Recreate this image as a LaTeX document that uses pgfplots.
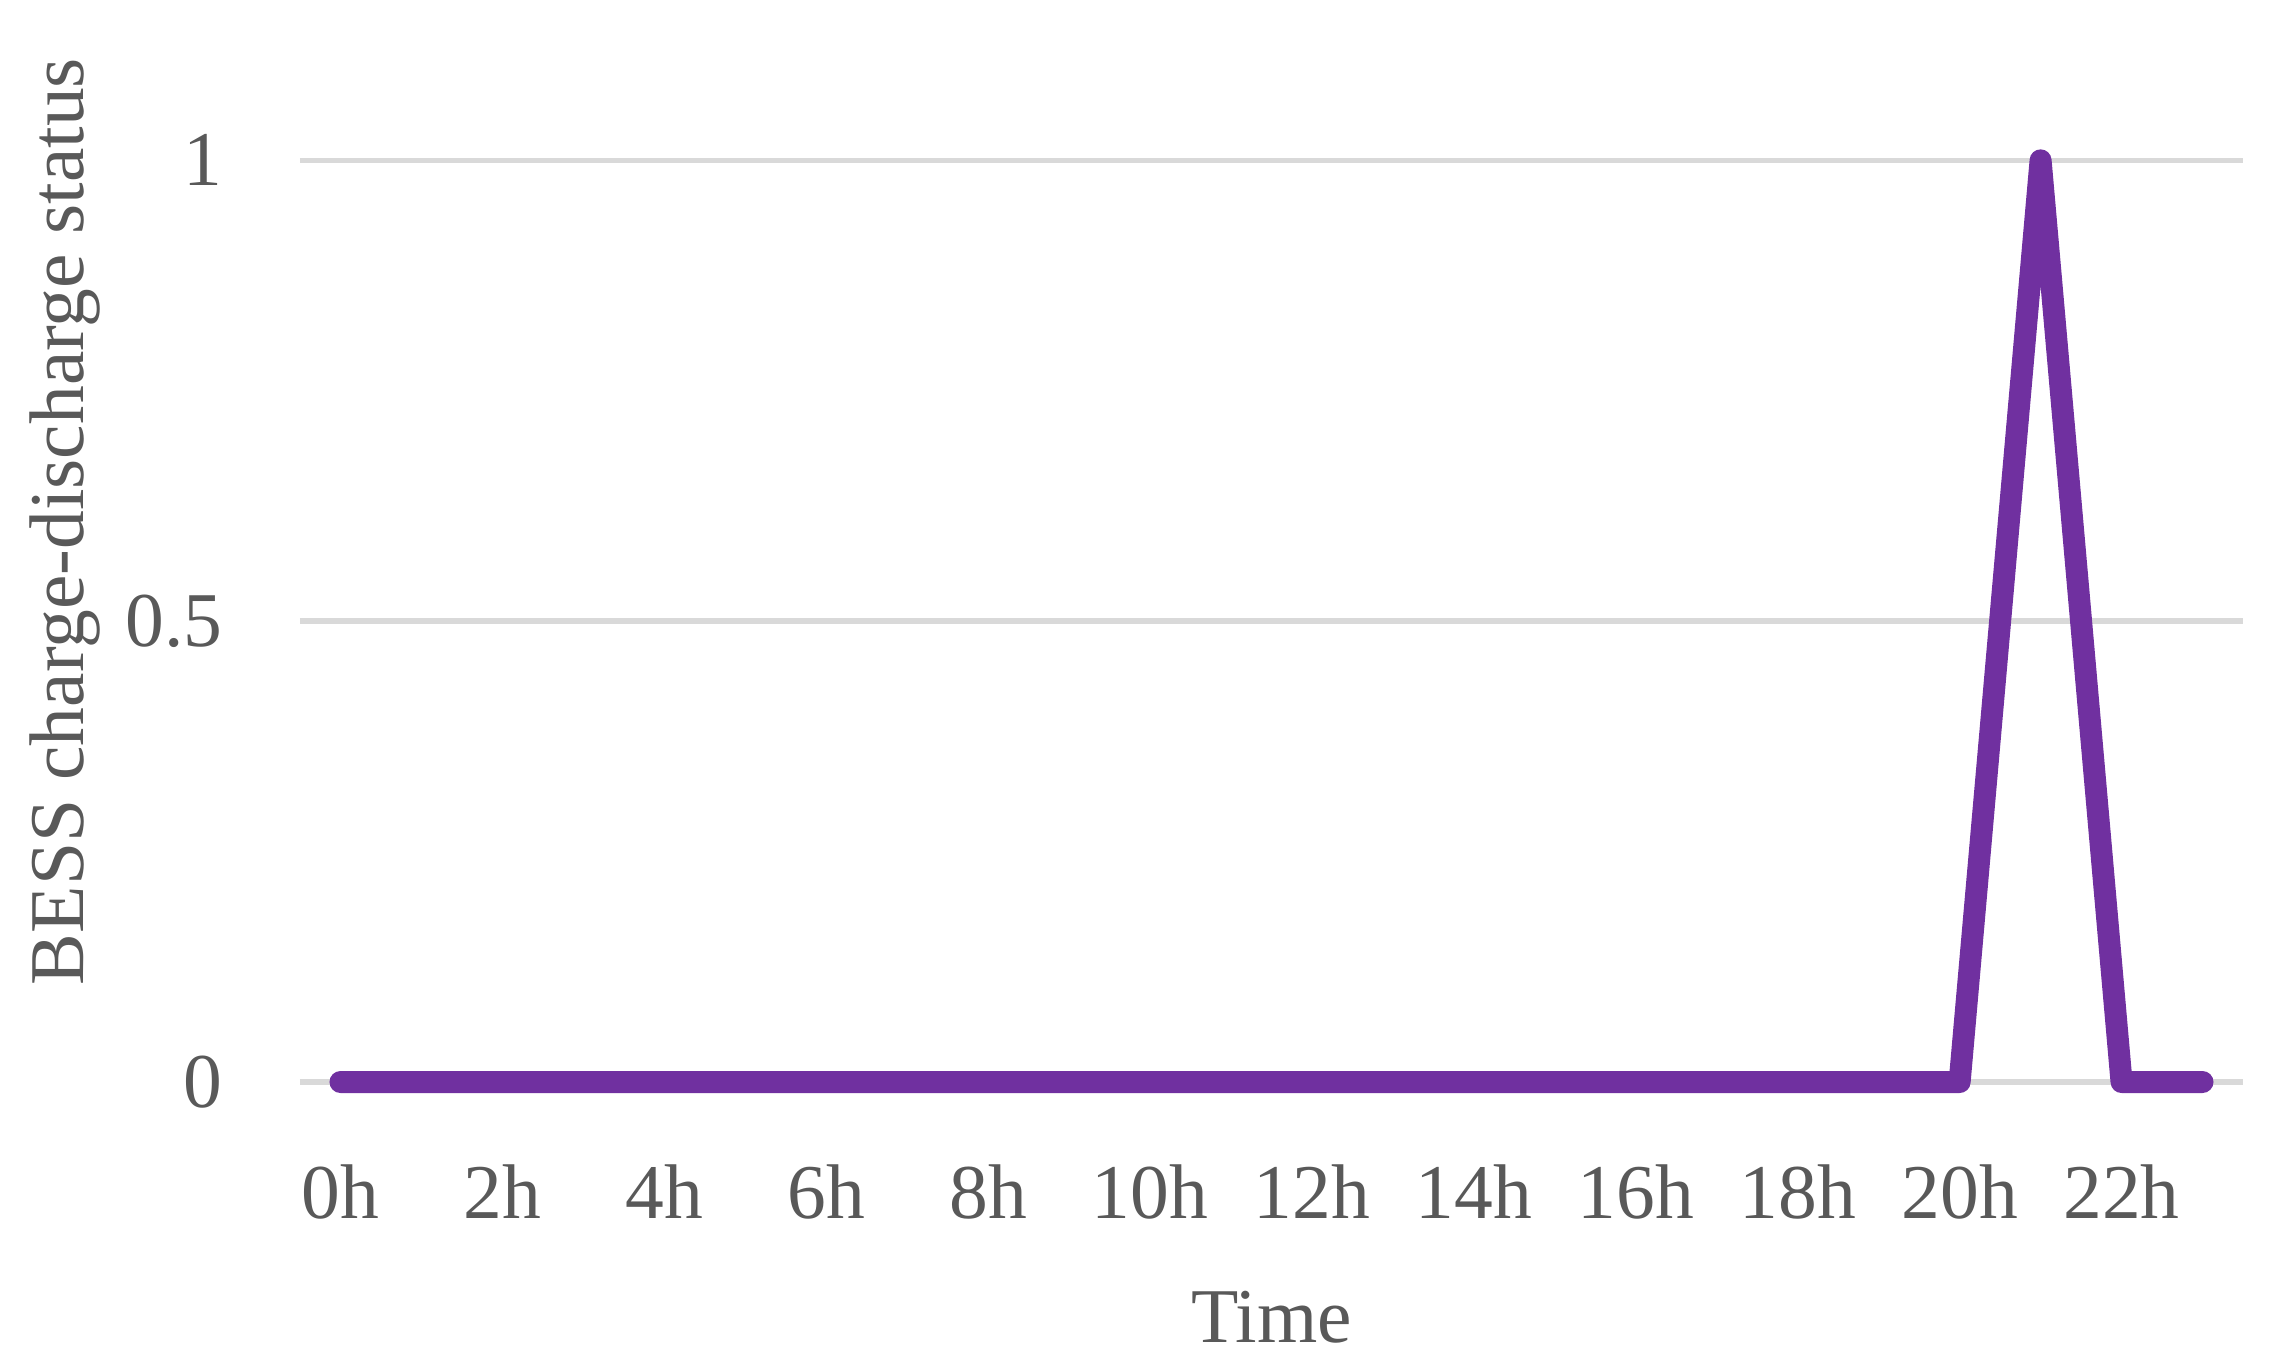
\documentclass[border=0pt]{standalone}
\usepackage{fontspec}
\setmainfont{Liberation Serif}
\usepackage{pgfplots}
\pgfplotsset{compat=1.18}
\definecolor{txt}{HTML}{595959}
\definecolor{gridc}{HTML}{D9D9D9}
\definecolor{bess}{HTML}{7030A0}

\begin{document}
\begin{tikzpicture}
\begin{axis}[
  scale only axis, width=388.6pt, height=216.4pt,
  xmin=-0.5, xmax=23.5, ymin=0, ymax=1.174,
  xtick={0,2,...,22},
  xticklabels={0h,2h,4h,6h,8h,10h,12h,14h,16h,18h,20h,22h},
  ytick={0,0.5,1}, yticklabels={0,0.5,1},
  axis line style={draw=none}, tick style={draw=none},
  ymajorgrids, major grid style={gridc, line width=1.1pt},
  clip=false,
  font=\fontsize{15.5}{18}\selectfont, color=txt,
  xticklabel style={yshift=-13pt},
  yticklabel style={xshift=-12pt},
  xlabel={Time}, ylabel={BESS charge-discharge status},
  xlabel style={at={(rel axis cs:0.5,0)}, yshift=-47pt, anchor=center},
  ylabel style={at={(axis description cs:-0.121,0.518)}, anchor=center},
]
\addplot[bess, line width=4.4pt, line join=round, line cap=round] coordinates {
  (0,0) (1,0) (2,0) (3,0) (4,0) (5,0) (6,0) (7,0) (8,0) (9,0) (10,0) (11,0)
  (12,0) (13,0) (14,0) (15,0) (16,0) (17,0) (18,0) (19,0) (20,0) (21,1) (22,0) (23,0)
};
\path (rel axis cs:0,0) ++(-60pt,-57.2pt) coordinate (bl);
\path (rel axis cs:1,1) ++(9.6pt,0pt) coordinate (tr);
\end{axis}
\end{tikzpicture}
\end{document}
